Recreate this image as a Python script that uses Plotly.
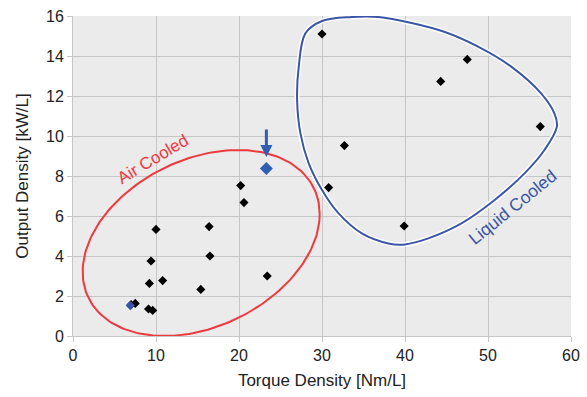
import numpy as np
import plotly.graph_objects as go

# ---- data ----
air_x = [10.0, 9.4, 9.2, 10.8, 9.1, 9.6, 7.0, 7.5, 15.4, 16.4, 16.5, 20.2, 20.6, 23.4]
air_y = [5.33, 3.75, 2.63, 2.77, 1.35, 1.28, 1.57, 1.63, 2.33, 5.47, 4.0, 7.52, 6.67, 3.0]
liquid_x = [30.0, 47.5, 44.3, 56.3, 32.7, 30.8, 39.9]
liquid_y = [15.1, 13.83, 12.73, 10.47, 9.52, 7.42, 5.5]
highlight_x = [23.3]
highlight_y = [8.38]
small_blue_x = [6.9]
small_blue_y = [1.52]

x_ticks = [0, 10, 20, 30, 40, 50, 60]
y_ticks = [0, 2, 4, 6, 8, 10, 12, 14, 16]

# annotation outlines
ell_center = (15.44, 4.65)
ell_ax = 14.28      # x amplitude
ell_cy = 1.445      # y coupling to cos
ell_sy = 4.42       # y amplitude on sin

blob_x = [33.6, 30.0, 28.0, 27.2, 27.0, 27.4, 28.4, 30.0, 32.0, 34.8, 38.0, 40.0, 42.8,
          46.8, 50.8, 54.4, 56.8, 58.3, 58.0, 56.4, 52.8, 48.8, 44.8, 40.8, 36.8, 33.6]
blob_y = [15.95, 15.75, 15.13, 13.47, 11.8, 10.13, 8.63, 7.3, 6.13, 5.13, 4.63, 4.58, 4.88,
          5.63, 6.8, 8.13, 9.3, 10.47, 11.13, 12.13, 13.47, 14.47, 15.2, 15.65, 15.95, 15.95]

RED = "#ee3a3e"
BLUE = "#3a56a6"
FONT = "Liberation Sans, Arial, sans-serif"

t = np.linspace(0, 2 * np.pi, 200)
ex = ell_center[0] + ell_ax * np.cos(t)
ey = ell_center[1] + ell_cy * np.cos(t) + ell_sy * np.sin(t)

fig = go.Figure()
fig.add_trace(go.Scatter(x=ex, y=ey, mode="lines", line=dict(color=RED, width=2),
                         hoverinfo="skip", showlegend=False))
fig.add_trace(go.Scatter(x=blob_x, y=blob_y, mode="lines", line=dict(color="white", width=5, shape="spline"),
                         hoverinfo="skip", showlegend=False))
fig.add_trace(go.Scatter(x=blob_x, y=blob_y, mode="lines", line=dict(color=BLUE, width=2, shape="spline"),
                         hoverinfo="skip", showlegend=False))
fig.add_trace(go.Scatter(x=air_x, y=air_y, mode="markers",
                         marker=dict(symbol="diamond", size=7, color="black"), showlegend=False))
fig.add_trace(go.Scatter(x=liquid_x, y=liquid_y, mode="markers",
                         marker=dict(symbol="diamond", size=7, color="black"), showlegend=False))
fig.add_trace(go.Scatter(x=small_blue_x, y=small_blue_y, mode="markers",
                         marker=dict(symbol="diamond", size=7, color="#3355aa"), showlegend=False))
fig.add_trace(go.Scatter(x=highlight_x, y=highlight_y, mode="markers",
                         marker=dict(symbol="diamond", size=10, color="#2f5fb3"), showlegend=False))

fig.add_annotation(x=highlight_x[0], y=8.95, ax=highlight_x[0], ay=10.4, xref="x", yref="y",
                   axref="x", ayref="y", showarrow=True, arrowhead=2, arrowsize=0.8,
                   arrowwidth=3, arrowcolor="#2f5fb3", text="")
fig.add_annotation(x=9.56, y=8.85, text="Air Cooled", showarrow=False, textangle=-31,
                   font=dict(family=FONT, size=17, color=RED))
fig.add_annotation(x=53.0, y=6.45, text="Liquid Cooled", showarrow=False, textangle=-39,
                   font=dict(family=FONT, size=17.5, color=BLUE))

axis_common = dict(showgrid=True, gridcolor="#c6c6c6", gridwidth=1, zeroline=False,
                   showline=True, linecolor="#c6c6c6", linewidth=1, automargin=False,
                   ticks="outside", ticklen=5, tickcolor="#c6c6c6",
                   tickfont=dict(family=FONT, size=16, color="#222222"))

fig.update_layout(
    width=587, height=397,
    margin=dict(l=73, r=16, t=16, b=61),
    paper_bgcolor="white", plot_bgcolor="#ebebeb",
    font=dict(family=FONT, color="#222222"),
    xaxis=dict(range=[0, 60], tickvals=x_ticks,
               title=dict(text="Torque Density [Nm/L]", font=dict(family=FONT, size=17, color="#222222"), standoff=10),
               **axis_common),
    yaxis=dict(range=[0, 16], tickvals=y_ticks,
               title=dict(text="Output Density [kW/L]", font=dict(family=FONT, size=17, color="#222222"), standoff=13),
               **axis_common),
)

fig.write_html("out.html")
